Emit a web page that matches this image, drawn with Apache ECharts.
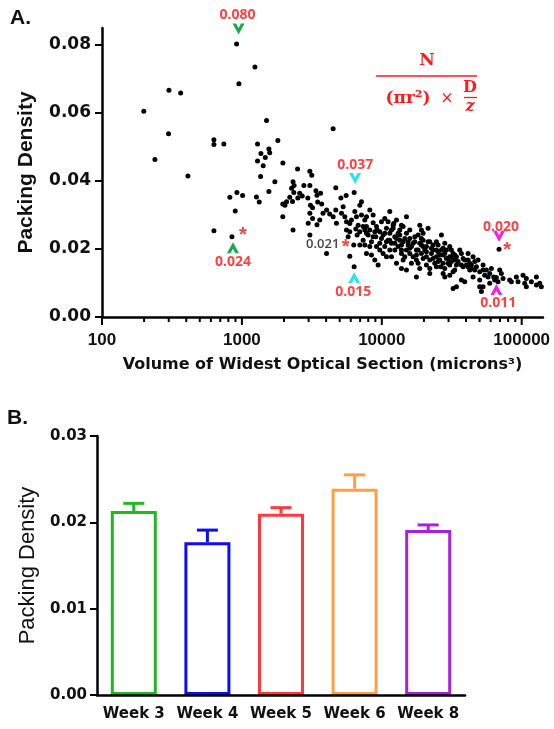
<!DOCTYPE html>
<html><head><meta charset="utf-8">
<script src="https://cdn.jsdelivr.net/npm/echarts@6/dist/echarts.min.js"></script>
<style>html,body{margin:0;padding:0;background:#fff}#c{width:554px;height:729px}</style>
</head><body><div id="c"></div><script>
// ---------- Panel A data: [volume (microns^3), packing density] ----------
const sparsePoints = [
[199,0.0605],[239,0.0463],[299,0.0539],[301,0.0667],[365,0.0659],[411,0.0415],[631,0.0521],[631,0.0507],[743,0.0509],[631,0.0254],
[820,0.0352],[896,0.0312],[921,0.0366],[1012,0.0357],[849,0.0236],[916,0.0803],[952,0.0686],[1239,0.0735],[1500,0.0578],[1807,0.0519],
[1294,0.0509],[1560,0.0494],[1367,0.0481],[1580,0.0483],[1470,0.0469],[1294,0.0459],[1420,0.0445],[1360,0.0413],[1720,0.0398],[1560,0.0369],
[1270,0.0353],[1330,0.0338],[4490,0.0554]
];
const midPoints = [
[1963,0.0453],[2500,0.0435],[3060,0.0429],[3160,0.0417],[2320,0.0398],[2360,0.0387],[2265,0.0379],[2773,0.0387],[3060,0.0387],[4690,0.0380],
[2350,0.0366],[2590,0.0364],[3380,0.0371],[3440,0.0358],[3650,0.0364],[2200,0.0352],[2300,0.0340],[2510,0.0350],[2700,0.0356],[2960,0.0350],
[2085,0.0339],[1960,0.0332],[3090,0.0329],[3200,0.0321],[3480,0.0338],[3720,0.0332],[4030,0.0315],[4240,0.0303],[4490,0.0295],[4690,0.0315],
[3800,0.0305],[3060,0.0305],[1960,0.0295],[2320,0.0256],[3060,0.0241],[4030,0.0187],[2980,0.0276],[3440,0.0271],[3200,0.0290],[3600,0.0285],
[2030,0.0329],[4740,0.0276],[5560,0.0357],[5100,0.0350]
];
const bandPoints = [
[5150,0.0305],[5441,0.0295],[5593,0.0280],[5907,0.0275],[6072,0.0285],[6414,0.0310],[6592,0.0295],[5593,0.0256],[5907,0.0251],[6522,0.0259],
[6344,0.0366],[6964,0.0329],[7158,0.0339],[7158,0.0300],[5295,0.0324],[6300,0.0212],[5907,0.0179],[6344,0.0148],[5748,0.0236],[6665,0.0241],
[6964,0.0251],[7561,0.0285],[7771,0.0266],[8209,0.0256],[8671,0.0277],[7356,0.0226],[7987,0.0241],[8437,0.0221],[9060,0.0236],[8209,0.0207],
[7561,0.0212],[6964,0.0212],[6776,0.0270],[8913,0.0251],[7771,0.0295],[8671,0.0300],[8209,0.0315],[9160,0.0266],[9160,0.0207],[8437,0.0182],
[7771,0.0187],[8913,0.0168],
[9945,0.0280],[10505,0.0290],[11405,0.0310],[10798,0.0261],[9262,0.0256],[10221,0.0241],[11405,0.0246],[11097,0.0226],[9676,0.0217],[10505,0.0207],
[11722,0.0217],[12385,0.0236],[12050,0.0261],[10221,0.0187],[11405,0.0197],[10798,0.0177],[12385,0.0197],[9945,0.0231],[11722,0.0177],[12730,0.0158],
[9415,0.0153],[12050,0.0270],[11097,0.0280],[9676,0.0197],
[12730,0.0285],[12180,0.0275],[13447,0.0256],[14204,0.0266],[15004,0.0246],[12730,0.0231],[13820,0.0212],[14204,0.0221],[15849,0.0231],[16740,0.0217],
[15004,0.0197],[13820,0.0187],[15849,0.0187],[16740,0.0177],[17684,0.0197],[14204,0.0168],[16290,0.0158],[15004,0.0138],[13820,0.0143],[13447,0.0226],
[15421,0.0212],[17207,0.0236],[13083,0.0207],[14600,0.0177],[17684,0.0168],[15004,0.0295],[15849,0.0256],
[18176,0.0241],[19733,0.0226],[20845,0.0207],[22025,0.0221],[23266,0.0197],[19200,0.0187],[20845,0.0177],[22025,0.0168],[18681,0.0143],[22025,0.0143],
[17684,0.0118],[22025,0.0128],[21430,0.0261],[18681,0.0270],[19733,0.0207],[23266,0.0212],[24577,0.0177],[20281,0.0197],[22637,0.0187],[18681,0.0217],
[23912,0.0158],[20845,0.0153],[18176,0.0158],[19733,0.0246],
[25260,0.0212],[26683,0.0197],[28184,0.0217],[30600,0.0207],[26683,0.0241],[27424,0.0182],[29773,0.0172],[32324,0.0187],[24577,0.0148],[27424,0.0158],
[30600,0.0153],[27424,0.0128],[32324,0.0133],[28967,0.0197],[25962,0.0168],[33222,0.0168],[31450,0.0197],[25260,0.0192],[34145,0.0153],[28184,0.0143],
[34145,0.0177],[36069,0.0197],[39165,0.0168],[42520,0.0158],[44915,0.0177],[47446,0.0148],[52943,0.0153],[38107,0.0148],[42520,0.0138],[44915,0.0118],
[50119,0.0109],[39165,0.0104],[34145,0.0089],[37070,0.0187],[41370,0.0187],[48764,0.0168],[40252,0.0153],[46163,0.0163],[52943,0.0138],[43700,0.0143],
[55925,0.0138],[59076,0.0128],[60718,0.0143],[69634,0.0138],[63096,0.0118],[65900,0.0116],[64140,0.0109],[67752,0.0104],[73557,0.0113],[59076,0.0099],
[52943,0.0089],[68870,0.0199],[57480,0.0118],[71568,0.0128],
[82080,0.0109],[84360,0.0104],[91600,0.0118],[94150,0.0104],[107970,0.0113],[105050,0.0099],[107970,0.0089],[127280,0.0118],[127280,0.0094],[138200,0.0089],
[134470,0.0099],[102200,0.0123],[117220,0.0104],
[30600,0.0123],[37070,0.0109],[32324,0.0084],[51511,0.0075],[50119,0.0089],[28184,0.0118],[26400,0.0148],[43700,0.0153],[33222,0.0138],[41370,0.0168],
[28967,0.0172],[31450,0.0177]
];
const corePoints = [
[13447,0.0241],[14600,0.0231],[16290,0.0207],[18176,0.0197],[19200,0.0212],[20845,0.0192],[22637,0.0202],[24577,0.0197],[25962,0.0182],[28184,0.0187],
[30600,0.0177],[33222,0.0182],[35094,0.0163],[38107,0.0172],[41370,0.0148],[46163,0.0138],[50119,0.0133],[54413,0.0123],[29773,0.0158],[27424,0.0202],
[24577,0.0221],[21430,0.0221],[19200,0.0231],[17207,0.0221],[15421,0.0221],[13820,0.0197],[12385,0.0217],[11405,0.0226],[10505,0.0246],[9676,0.0251],
[8671,0.0236],[7771,0.0246],[7356,0.0266],[7561,0.0256],[10798,0.0221],[15849,0.0202],[17684,0.0182],[19733,0.0172],[23266,0.0172],[25260,0.0163],
[31450,0.0163],[37070,0.0153],[19200,0.0256],[13820,0.0270],[11722,0.0256],[13083,0.0246]
];
const xTickValues = [100,200,300,400,500,600,700,800,900,1000,2000,3000,4000,5000,6000,7000,8000,9000,10000,20000,30000,40000,50000,60000,70000,80000,90000,100000];
const xMajorTicks = [100,1000,10000,100000];
const yTicksA = [0,0.02,0.04,0.06,0.08];

// annotations in panel A
const annotVolume  = [916, 849, 6344, 6344, 68870, 65900];
const annotDensity = [0.0803, 0.0236, 0.0366, 0.0148, 0.0199, 0.0116];
const annotText    = ['0.080','0.024','0.037','0.015','0.020','0.011'];
const annotDir     = ['down','up','down','up','down','up'];
const annotColor   = ['#1ea84a','#1ea84a','#22e6ee','#22e6ee','#ee22e6','#ee22e6'];
const starVolume   = [849, 6300, 68870];
const starDensity  = [0.0236, 0.0212, 0.0199];

// ---------- Panel B data ----------
const weeks      = ['Week 3','Week 4','Week 5','Week 6','Week 8'];
const weekMeans  = [0.0213, 0.0177, 0.0210, 0.0239, 0.0191];
const weekUpper  = [0.0222, 0.0191, 0.0217, 0.0255, 0.0197];
const weekColors = ['#22b822','#0c0cf5','#ff3a3a','#ffa040','#a622e0'];

const chart = echarts.init(document.getElementById('c'), null, {renderer:'canvas'});
const SANS = 'Arial, "Liberation Sans", sans-serif';
const WIDE = '"DejaVu Sans", Arial, sans-serif';
const CALI = '"Open Sans", "Noto Sans", sans-serif';
const downV = 'path://M0,0 L3.6,0 L6,4.4 L8.4,0 L12,0 L6,11 Z';
const upV   = 'path://M0,11 L3.6,11 L6,6.6 L8.4,11 L12,11 L6,0 Z';
const labelShift = [[1,-29],[1,25],[1,-28],[-1,25],[2,-22],[2,25]];
const chevShift  = [[2,-15],[1,11],[1,-14],[0,11],[0,-13],[0,12]];
const starShift  = [[11,-1],[-8,3],[8,1]];

const allPoints = sparsePoints.concat(midPoints, bandPoints, corePoints);

const option = {
  animation: false,
  backgroundColor: '#fff',
  grid: [
    {left:102, top:28, width:441, height:289, outerBoundsMode:'none', containLabel:false},
    {left:97, top:436, width:368, height:259, outerBoundsMode:'none', containLabel:false}
  ],
  xAxis: [
    {type:'log', gridIndex:0, min:100, max:142000, logBase:10,
     axisLine:{show:true, lineStyle:{color:'#000', width:2.5}},
     axisTick:{show:false}, splitLine:{show:false}, minorTick:{show:false},
     axisLabel:{show:true, showMaxLabel:false, margin:15, color:'#111', fontFamily:SANS, fontWeight:'bold', fontSize:17,
        formatter: v => String(Math.round(v))},
     name:'Volume of Widest Optical Section (microns³)', nameLocation:'middle', nameGap:40,
     nameTextStyle:{color:'#111', fontFamily:WIDE, fontWeight:'bold', fontSize:16}},
    {type:'category', gridIndex:1, data:weeks, z:5,
     axisLine:{lineStyle:{color:'#000', width:2.5}},
     axisTick:{alignWithLabel:true, length:7, lineStyle:{color:'#000', width:2}},
     axisLabel:{interval:0, margin:12, color:'#111', fontFamily:WIDE, fontWeight:'bold', fontSize:15}}
  ],
  yAxis: [
    {type:'value', gridIndex:0, min:0, max:0.085,
     axisLine:{show:true, lineStyle:{color:'#000', width:2.5}},
     axisTick:{show:true, customValues:yTicksA, length:7, lineStyle:{color:'#000', width:2}},
     axisLabel:{customValues:yTicksA, margin:11, color:'#111', fontFamily:WIDE, fontWeight:'bold', fontSize:17, formatter: v => v.toFixed(2)},
     splitLine:{show:false},
     name:'Packing Density', nameLocation:'middle', nameGap:65,
     nameTextStyle:{color:'#111', fontFamily:SANS, fontWeight:'bold', fontSize:21}},
    {type:'value', gridIndex:1, min:0, max:0.03, interval:0.01,
     axisLine:{show:true, lineStyle:{color:'#000', width:2.5}},
     axisTick:{show:true, length:7, lineStyle:{color:'#000', width:2}},
     axisLabel:{margin:10, color:'#111', fontFamily:WIDE, fontWeight:'bold', fontSize:15, formatter: v => v.toFixed(2)},
     splitLine:{show:false},
     name:'Packing Density', nameLocation:'middle', nameGap:50,
     nameTextStyle:{color:'#111', fontFamily:SANS, fontSize:22}}
  ],
  series: [
    {type:'scatter', xAxisIndex:0, yAxisIndex:0, data:allPoints, symbol:'circle', symbolSize:5,
     itemStyle:{color:'#000', opacity:1}, silent:true, z:3},
    {type:'custom', xAxisIndex:0, yAxisIndex:0, silent:true, clip:false, z:6,
     data:xTickValues.map(v => [v, 0]),
     renderItem:(params, api) => {
       const v = api.value(0);
       const p = api.coord([v, 0]);
       const len = xMajorTicks.indexOf(v) >= 0 ? 8 : 5;
       return {type:'line', shape:{x1:p[0], y1:p[1], x2:p[0], y2:p[1]+len}, style:{stroke:'#000', lineWidth:2}};
     }},
    {type:'scatter', xAxisIndex:0, yAxisIndex:0, silent:true, z:5,
     data: annotVolume.map((v,i) => ({
       value:[v, annotDensity[i]],
       symbol: annotDir[i]==='down' ? downV : upV,
       symbolSize:[12,11],
       symbolOffset:chevShift[i],
       itemStyle:{color:annotColor[i], opacity:1}
     }))},
    {type:'scatter', xAxisIndex:0, yAxisIndex:0, silent:true, z:5, symbolSize:1,
     itemStyle:{color:'rgba(0,0,0,0)'},
     data: annotVolume.map((v,i) => ({
       value:[v, annotDensity[i]],
       label:{show:true, position:'inside', formatter:annotText[i], offset:labelShift[i],
              color:'#ff1010', fontFamily:CALI, fontWeight:'bold', fontSize:14}
     })).concat(starVolume.map((v,i) => ({
       value:[v, starDensity[i]],
       label:{show:true, position:'inside', formatter:'*', offset:starShift[i],
              color:'#ff1010', fontFamily:SANS, fontWeight:'bold', fontSize:20}
     }))).concat([{
       value:[starVolume[1], starDensity[1]],
       label:{show:true, position:'inside', formatter:'0.021', offset:[-31, -1],
              color:'#111', fontFamily:CALI, fontWeight:600, fontSize:13}
     }])},
    {type:'bar', xAxisIndex:1, yAxisIndex:1, barWidth:46, silent:true,
     data: weekMeans.map((m,i) => ({value:m, itemStyle:{color:'rgba(255,255,255,0)', borderColor:weekColors[i], borderWidth:3}}))},
    {type:'custom', xAxisIndex:1, yAxisIndex:1, silent:true, z:4,
     data: weeks.map((w,i) => [i, weekMeans[i], weekUpper[i]]),
     encode:{x:0, y:[1,2]},
     renderItem:(params, api) => {
       const i = api.value(0);
       const p0 = api.coord([i, api.value(1)]);
       const p1 = api.coord([i, api.value(2)]);
       const st = {stroke:weekColors[i], lineWidth:3};
       return {type:'group', children:[
         {type:'line', shape:{x1:p0[0], y1:p0[1], x2:p1[0], y2:p1[1]}, style:st},
         {type:'line', shape:{x1:p1[0]-10.5, y1:p1[1], x2:p1[0]+10.5, y2:p1[1]}, style:st}
       ]};
     }}
  ],
  graphic: [
    {type:'text', left:10, top:8, style:{text:'A.', font:'bold 21px Arial, "Liberation Sans"', fill:'#111'}},
    {type:'text', left:7, top:408, style:{text:'B.', font:'bold 21px Arial, "Liberation Sans"', fill:'#111'}},
    {type:'text', x:427, y:61, style:{text:'N', font:'bold 17px "DejaVu Serif", "Liberation Serif", serif', fill:'#ff1a1a', align:'center', verticalAlign:'middle'}},
    {type:'line', shape:{x1:376, y1:76, x2:477, y2:76}, style:{stroke:'#ff1a1a', lineWidth:1.5}},
    {type:'text', x:408, y:99, style:{text:'(πr²)', font:'bold 17px "DejaVu Serif", "Liberation Serif", serif', fill:'#ff1a1a', align:'center', verticalAlign:'middle'}},
    {type:'text', x:447, y:99, style:{text:'×', font:'16px "DejaVu Serif", "Liberation Serif", serif', fill:'#ff1a1a', align:'center', verticalAlign:'middle'}},
    {type:'text', x:470, y:88, style:{text:'D', font:'bold 16px "DejaVu Serif", "Liberation Serif", serif', fill:'#ff1a1a', align:'center', verticalAlign:'middle'}},
    {type:'line', shape:{x1:464, y1:97.5, x2:477, y2:97.5}, style:{stroke:'#ff1a1a', lineWidth:1.3}},
    {type:'text', x:470, y:107, style:{text:'z', font:'bold italic 16px "DejaVu Serif", "Liberation Serif", serif', fill:'#ff1a1a', align:'center', verticalAlign:'middle'}}
  ]
};
chart.setOption(option);
</script></body></html>
